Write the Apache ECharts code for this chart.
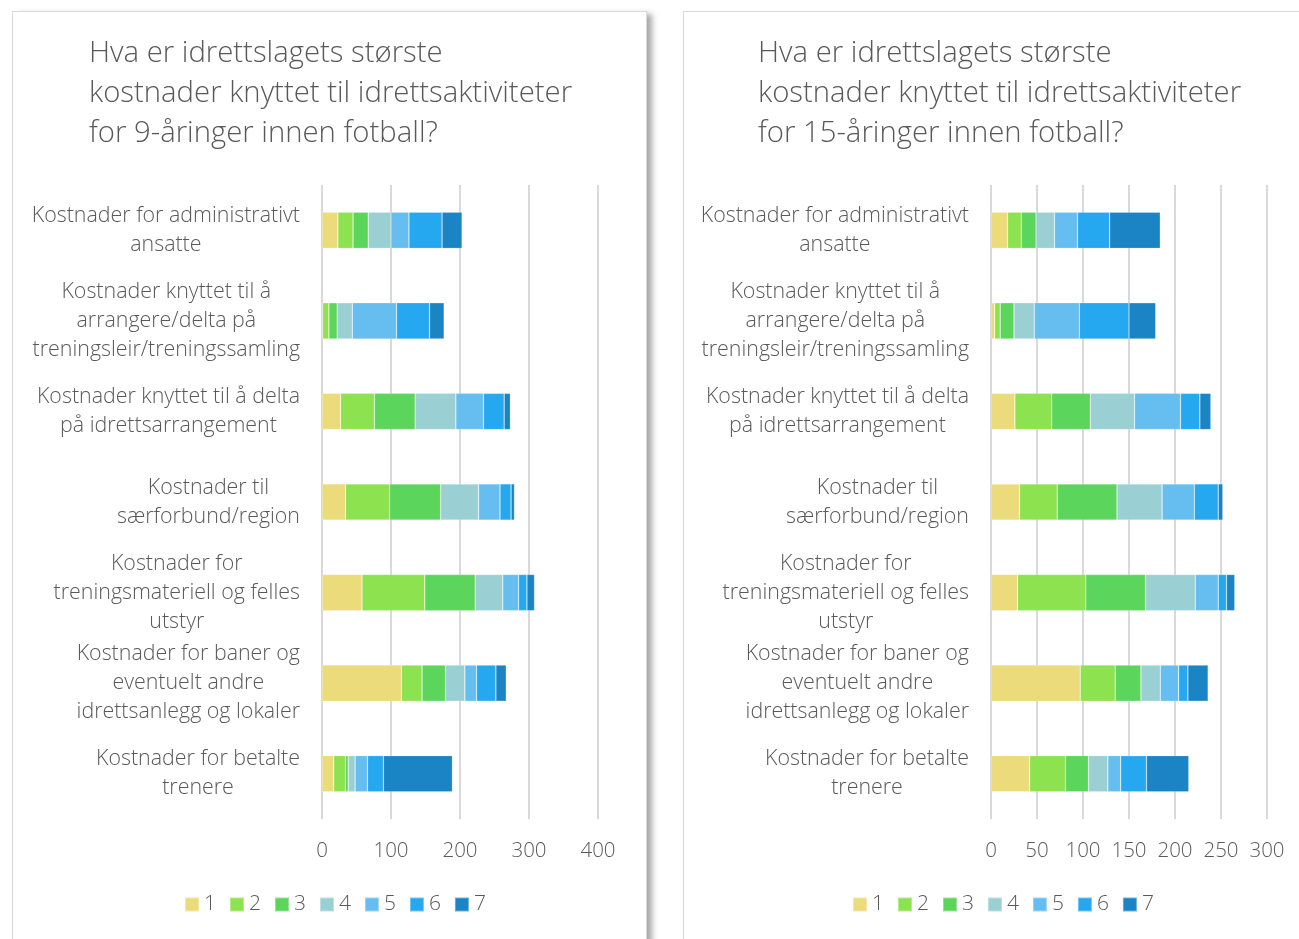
<!DOCTYPE html>
<html>
<head>
<meta charset="utf-8">
<script src="https://cdn.jsdelivr.net/npm/echarts@6/dist/echarts.min.js"></script>
<style>
  html, body { margin: 0; padding: 0; background: #ffffff; width: 1299px; height: 939px; overflow: hidden; }
  .panel { position: absolute; top: 11px; background: #fff; border: 1px solid #d9d9d9; }
  #p1 { left: 12px; width: 633px; height: 950px; box-shadow: 6px 2px 6px -1px rgba(0,0,0,0.35); }
  #p2 { left: 683px; width: 640px; height: 950px; }
  .chart { position: absolute; left: 0; top: 0; width: 100%; height: 940px; }
</style>
</head>
<body>
<div class="panel" id="p1"><div class="chart" id="c1"></div></div>
<div class="panel" id="p2"><div class="chart" id="c2"></div></div>
<script>
// ---- data ----
const categories = [
  "Kostnader for administrativt\nansatte",
  "Kostnader knyttet til å\narrangere/delta på\ntreningsleir/treningssamling",
  "Kostnader knyttet til å delta\npå idrettsarrangement",
  "Kostnader til\nsærforbund/region",
  "Kostnader for\ntreningsmateriell og felles\nutstyr",
  "Kostnader for baner og\neventuelt andre\nidrettsanlegg og lokaler",
  "Kostnader for betalte\ntrenere"
];
const seriesNames = ["1", "2", "3", "4", "5", "6", "7"];

const title9 = "Hva er idrettslagets største\nkostnader knyttet til idrettsaktiviteter\nfor 9-åringer innen fotball?";
const title15 = "Hva er idrettslagets største\nkostnader knyttet til idrettsaktiviteter\nfor 15-åringer innen fotball?";

// 9-åringer: one array per answer value (1..7), one entry per category
const age9_1 = [23, 1, 27, 34, 58, 115, 17];
const age9_2 = [22, 9, 49, 64, 91, 30, 17];
const age9_3 = [22, 12, 59, 74, 73, 34, 4];
const age9_4 = [33, 22, 59, 55, 40, 28, 10];
const age9_5 = [26, 64, 40, 31, 23, 17, 18];
const age9_6 = [48, 48, 30, 16, 12, 28, 23];
const age9_7 = [29, 21, 9, 5, 11, 15, 100];

// 15-åringer
const age15_1 = [18, 4, 26, 31, 29, 97, 42];
const age15_2 = [15, 6, 40, 41, 74, 38, 39];
const age15_3 = [16, 15, 42, 65, 65, 28, 25];
const age15_4 = [20, 22, 48, 49, 54, 21, 21];
const age15_5 = [25, 49, 50, 35, 25, 20, 14];
const age15_6 = [35, 54, 21, 26, 9, 10, 28];
const age15_7 = [55, 29, 12, 5, 9, 22, 46];

const axis9 = { min: 0, max: 400, interval: 100 };
const axis15 = { min: 0, max: 300, interval: 50 };

// ---- styles ----
const colors = ["#EBDB7B", "#8DE24F", "#5CD55D", "#9AD0D3", "#66BEF0", "#25A8EF", "#1A84C4"];
const textColor = "#595959";
const font = "'Open Sans', 'Noto Sans', sans-serif";

function build(titleText, data, axis, titleLeft, gridLeft, legendLeft) {
  return {
    animation: false,
    color: colors,
    textStyle: { fontFamily: font },
    title: {
      text: titleText,
      left: titleLeft, top: 22, padding: 0,
      textStyle: { fontFamily: font, fontSize: 29.3, fontWeight: 300, color: textColor, lineHeight: 40 }
    },
    legend: {
      data: seriesNames,
      left: legendLeft, top: 877,
      itemWidth: 14, itemHeight: 14, itemGap: 13,
      icon: 'rect',
      textStyle: { fontFamily: font, fontSize: 21, color: textColor, fontWeight: 300 }
    },
    grid: { left: gridLeft, top: 173, width: 276, height: 634, containLabel: false },
    xAxis: {
      type: 'value', min: axis.min, max: axis.max, interval: axis.interval,
      axisLine: { show: false }, axisTick: { show: false },
      splitLine: { show: true, lineStyle: { color: '#d9d9d9', width: 2 } },
      axisLabel: { fontFamily: font, fontSize: 20.5, color: textColor, fontWeight: 300, margin: 22 }
    },
    yAxis: {
      type: 'category', data: categories, inverse: true,
      axisLine: { show: false }, axisTick: { show: false },
      axisLabel: {
        margin: 22, align: 'right',
        formatter: v => v.split('\n').map(l => '{c|' + l + '}').join('\n'),
        rich: { c: { align: 'center', fontFamily: font, fontSize: 21.4, fontWeight: 300, lineHeight: 29, color: textColor } }
      }
    },
    series: data.map((d, i) => ({
      name: seriesNames[i], type: 'bar', stack: 'total',
      barCategoryGap: '60%', data: d,
      itemStyle: { color: colors[i], borderColor: 'rgba(255,255,255,0.35)', borderWidth: 0.6 }
    }))
  };
}

const c1 = echarts.init(document.getElementById('c1'), null, { renderer: 'canvas' });
c1.setOption(build(title9, [age9_1, age9_2, age9_3, age9_4, age9_5, age9_6, age9_7], axis9, 76, 309, 166));
const c2 = echarts.init(document.getElementById('c2'), null, { renderer: 'canvas' });
c2.setOption(build(title15, [age15_1, age15_2, age15_3, age15_4, age15_5, age15_6, age15_7], axis15, 74, 307, 163));
</script>
</body>
</html>
